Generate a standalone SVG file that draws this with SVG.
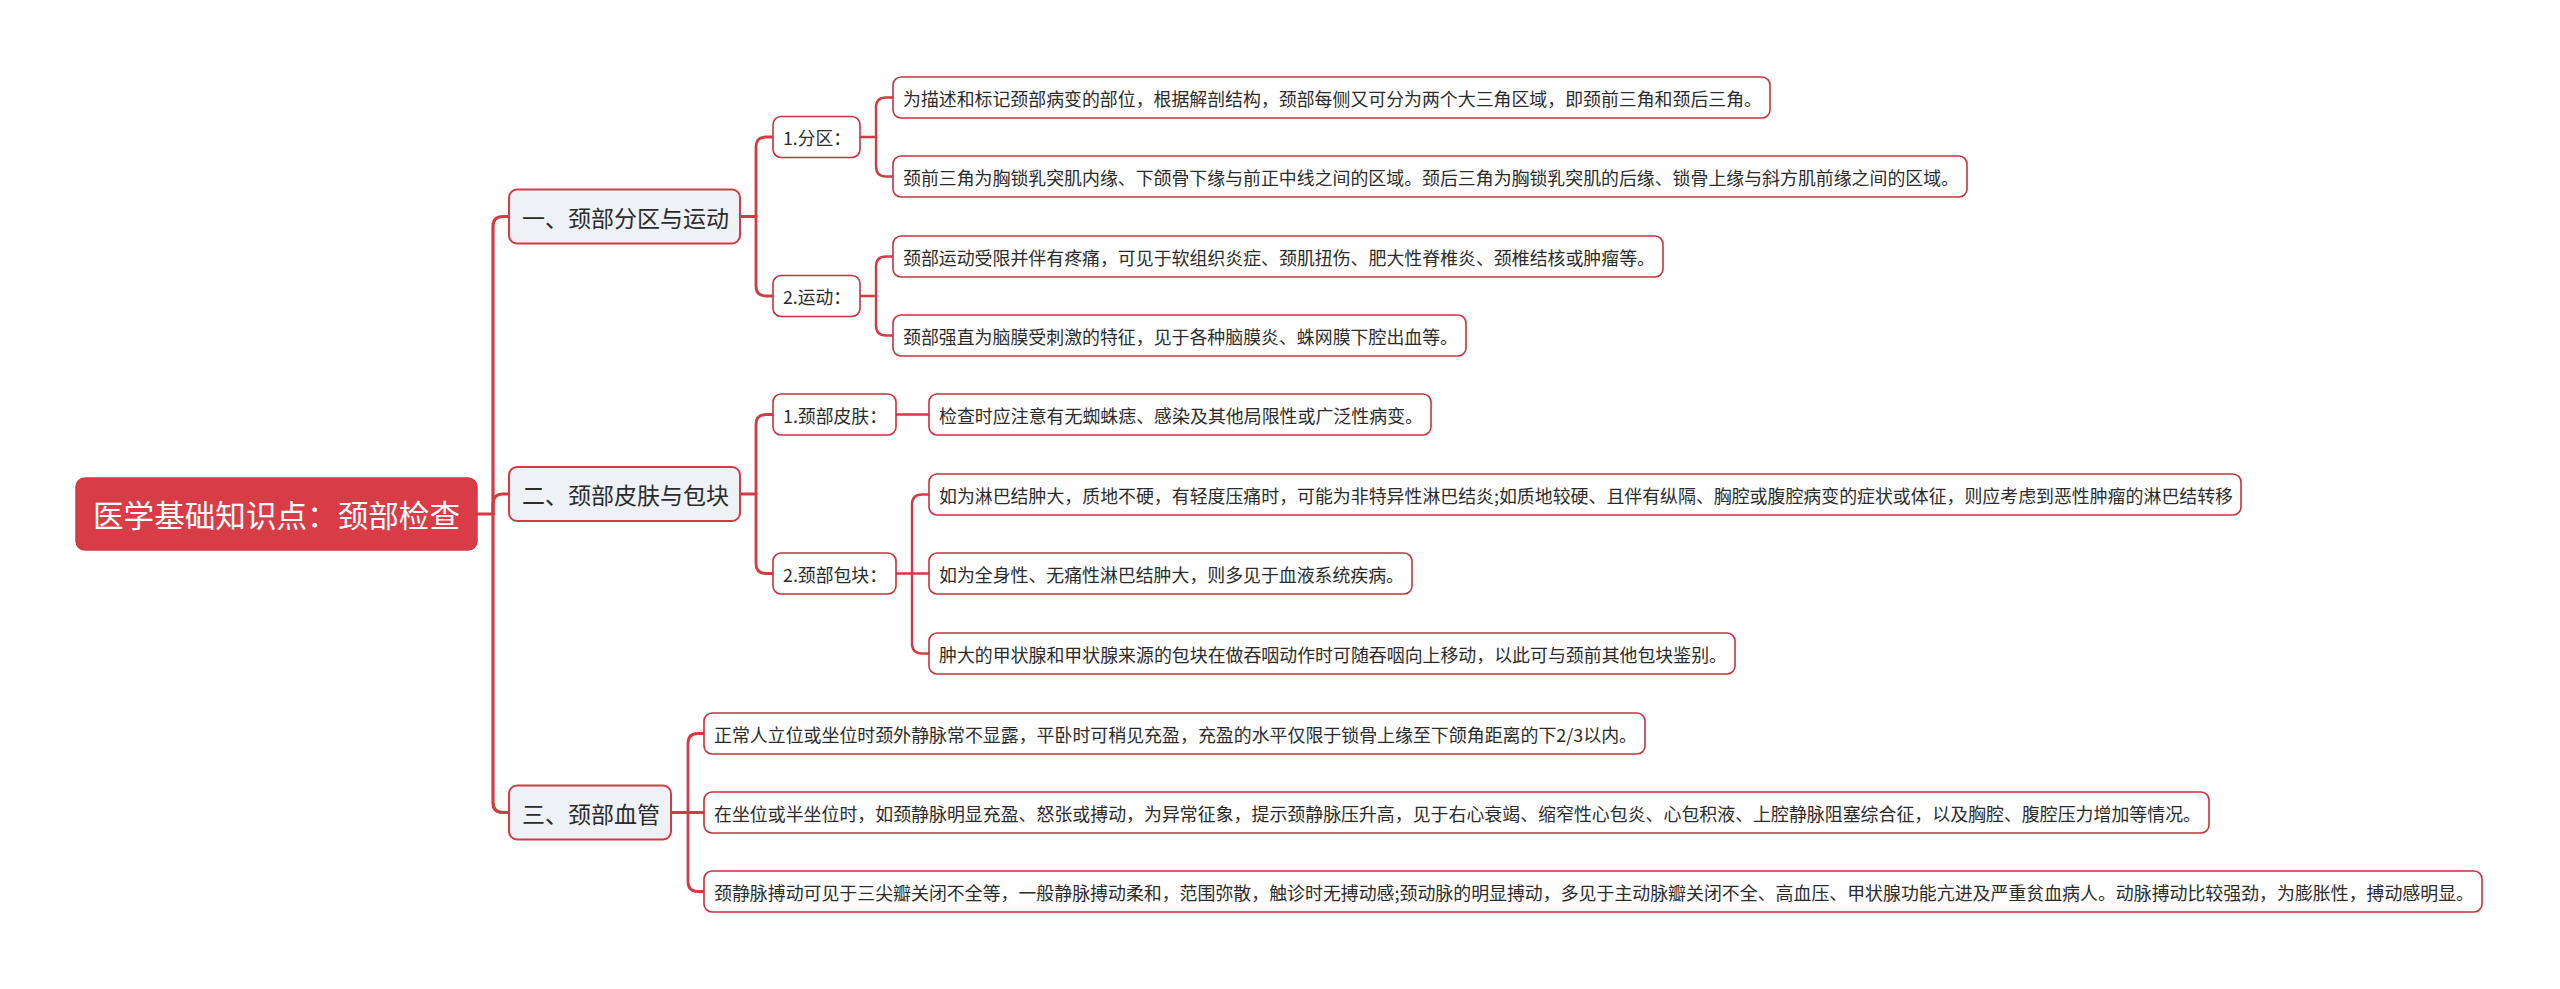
<svg xmlns="http://www.w3.org/2000/svg" width="2560" height="989" viewBox="0 0 2560 989">
<style>
  .bg{fill:#ffffff}
  .cn{fill:none;stroke:#d23a44;stroke-linecap:round;stroke-linejoin:round}
  .c1{stroke-width:3.2}
  .c2{stroke-width:2.8}
  .c3{stroke-width:2.4}
  .root rect{fill:#d83d47;stroke:#d23a44;stroke-width:1.5}
  .l1 rect{fill:#eef1f5;stroke:#d43a44;stroke-width:2}
  .l2 rect,.leaf rect{fill:#ffffff;stroke:#c5333d;stroke-width:1.6}
  text{font-family:"Noto Sans CJK SC","Microsoft YaHei","Noto Sans",sans-serif;dominant-baseline:central;fill:#2b2b2b}
  .root text{fill:#ffffff;font-size:30.5px}
  .l1 text{font-size:23px}
  .l2 text,.leaf text{font-size:17.9px}
</style>
<rect class="bg" x="0" y="0" width="2560" height="989"/>

<g id="connectors">
  <!-- root bus -->
  <path class="cn c1" d="M477 514 H493"/>
  <path class="cn c1" d="M493 514 V226.5 Q493 216.5 503 216.5 H509"/>
  <path class="cn c1" d="M493 514 V504 Q493 494 503 494 H509"/>
  <path class="cn c1" d="M493 514 V802.5 Q493 812.5 503 812.5 H509"/>
  <!-- L1 node 1 -->
  <path class="cn c2" d="M740 216.5 H756"/>
  <path class="cn c2" d="M756 216.5 V147 Q756 137 766 137 H773"/>
  <path class="cn c2" d="M756 216.5 V286 Q756 296 766 296 H773"/>
  <!-- 1.分区 -->
  <path class="cn c3" d="M860 137 H876"/>
  <path class="cn c3" d="M876 137 V107.5 Q876 97.5 886 97.5 H893"/>
  <path class="cn c3" d="M876 137 V166.5 Q876 176.5 886 176.5 H893"/>
  <!-- 2.运动 -->
  <path class="cn c3" d="M860 296 H876"/>
  <path class="cn c3" d="M876 296 V266.5 Q876 256.5 886 256.5 H893"/>
  <path class="cn c3" d="M876 296 V325.5 Q876 335.5 886 335.5 H893"/>
  <!-- L1 node 2 -->
  <path class="cn c2" d="M740 494 H756"/>
  <path class="cn c2" d="M756 494 V424.5 Q756 414.5 766 414.5 H773"/>
  <path class="cn c2" d="M756 494 V563.5 Q756 573.5 766 573.5 H773"/>
  <!-- 1.颈部皮肤 -->
  <path class="cn c3" d="M896 414.5 H929"/>
  <!-- 2.颈部包块 -->
  <path class="cn c3" d="M896 573.5 H929"/>
  <path class="cn c3" d="M912 573.5 V504.5 Q912 494.5 922 494.5 H929"/>
  <path class="cn c3" d="M912 573.5 V643.5 Q912 653.5 922 653.5 H929"/>
  <!-- L1 node 3 -->
  <path class="cn c2" d="M671 812.5 H704"/>
  <path class="cn c2" d="M688 812.5 V743.5 Q688 733.5 698 733.5 H704"/>
  <path class="cn c2" d="M688 812.5 V881.5 Q688 891.5 698 891.5 H704"/>
</g>

<g id="root" class="root">
  <rect x="76" y="478" width="401" height="72" rx="9"/>
  <text x="93" y="514" textLength="367" lengthAdjust="spacingAndGlyphs">医学基础知识点：颈部检查</text>
</g>

<g id="n1" class="l1">
  <rect x="509" y="189.5" width="231" height="54" rx="8"/>
  <text x="522" y="216.5" textLength="207" lengthAdjust="spacingAndGlyphs">一、颈部分区与运动</text>
</g>
<g id="n2" class="l1">
  <rect x="509" y="467" width="231" height="54" rx="8"/>
  <text x="522" y="494" textLength="207" lengthAdjust="spacingAndGlyphs">二、颈部皮肤与包块</text>
</g>
<g id="n3" class="l1">
  <rect x="509" y="785.5" width="162" height="54" rx="8"/>
  <text x="522" y="812.5" textLength="138" lengthAdjust="spacingAndGlyphs">三、颈部血管</text>
</g>

<g id="n1-1" class="l2">
  <rect x="773" y="116.5" width="87" height="41" rx="8"/>
  <text x="783" y="137" textLength="68" lengthAdjust="spacingAndGlyphs">1.分区：</text>
</g>
<g id="n1-2" class="l2">
  <rect x="773" y="275.5" width="87" height="41" rx="8"/>
  <text x="783" y="296" textLength="68" lengthAdjust="spacingAndGlyphs">2.运动：</text>
</g>
<g id="n2-1" class="l2">
  <rect x="773" y="394" width="123" height="41" rx="8"/>
  <text x="783" y="414.5" textLength="104" lengthAdjust="spacingAndGlyphs">1.颈部皮肤：</text>
</g>
<g id="n2-2" class="l2">
  <rect x="773" y="553" width="123" height="41" rx="8"/>
  <text x="783" y="573.5" textLength="104" lengthAdjust="spacingAndGlyphs">2.颈部包块：</text>
</g>

<g id="leaf1" class="leaf">
  <rect x="893" y="77" width="877" height="41" rx="8"/>
  <text x="903" y="97.5" textLength="859" lengthAdjust="spacingAndGlyphs">为描述和标记颈部病变的部位，根据解剖结构，颈部每侧又可分为两个大三角区域，即颈前三角和颈后三角。</text>
</g>
<g id="leaf2" class="leaf">
  <rect x="893" y="156" width="1074" height="41" rx="8"/>
  <text x="903" y="176.5" textLength="1056" lengthAdjust="spacingAndGlyphs">颈前三角为胸锁乳突肌内缘、下颌骨下缘与前正中线之间的区域。颈后三角为胸锁乳突肌的后缘、锁骨上缘与斜方肌前缘之间的区域。</text>
</g>
<g id="leaf3" class="leaf">
  <rect x="893" y="236" width="770" height="41" rx="8"/>
  <text x="903" y="256.5" textLength="752" lengthAdjust="spacingAndGlyphs">颈部运动受限并伴有疼痛，可见于软组织炎症、颈肌扭伤、肥大性脊椎炎、颈椎结核或肿瘤等。</text>
</g>
<g id="leaf4" class="leaf">
  <rect x="893" y="315" width="573" height="41" rx="8"/>
  <text x="903" y="335.5" textLength="555" lengthAdjust="spacingAndGlyphs">颈部强直为脑膜受刺激的特征，见于各种脑膜炎、蛛网膜下腔出血等。</text>
</g>
<g id="leaf5" class="leaf">
  <rect x="929" y="394" width="502" height="41" rx="8"/>
  <text x="939" y="414.5" textLength="484" lengthAdjust="spacingAndGlyphs">检查时应注意有无蜘蛛痣、感染及其他局限性或广泛性病变。</text>
</g>
<g id="leaf6" class="leaf">
  <rect x="929" y="474" width="1312" height="41" rx="8"/>
  <text x="939" y="494.5" textLength="1294" lengthAdjust="spacingAndGlyphs">如为淋巴结肿大，质地不硬，有轻度压痛时，可能为非特异性淋巴结炎;如质地较硬、且伴有纵隔、胸腔或腹腔病变的症状或体征，则应考虑到恶性肿瘤的淋巴结转移</text>
</g>
<g id="leaf7" class="leaf">
  <rect x="929" y="553" width="483" height="41" rx="8"/>
  <text x="939" y="573.5" textLength="465" lengthAdjust="spacingAndGlyphs">如为全身性、无痛性淋巴结肿大，则多见于血液系统疾病。</text>
</g>
<g id="leaf8" class="leaf">
  <rect x="929" y="633" width="806" height="41" rx="8"/>
  <text x="939" y="653.5" textLength="788" lengthAdjust="spacingAndGlyphs">肿大的甲状腺和甲状腺来源的包块在做吞咽动作时可随吞咽向上移动，以此可与颈前其他包块鉴别。</text>
</g>
<g id="leaf9" class="leaf">
  <rect x="704" y="713" width="941" height="41" rx="8"/>
  <text x="714" y="733.5" textLength="923" lengthAdjust="spacingAndGlyphs">正常人立位或坐位时颈外静脉常不显露，平卧时可稍见充盈，充盈的水平仅限于锁骨上缘至下颌角距离的下2/3以内。</text>
</g>
<g id="leaf10" class="leaf">
  <rect x="704" y="792" width="1505" height="41" rx="8"/>
  <text x="714" y="812.5" textLength="1487" lengthAdjust="spacingAndGlyphs">在坐位或半坐位时，如颈静脉明显充盈、怒张或搏动，为异常征象，提示颈静脉压升高，见于右心衰竭、缩窄性心包炎、心包积液、上腔静脉阻塞综合征，以及胸腔、腹腔压力增加等情况。</text>
</g>
<g id="leaf11" class="leaf">
  <rect x="704" y="871" width="1778" height="41" rx="8"/>
  <text x="714" y="891.5" textLength="1760" lengthAdjust="spacingAndGlyphs">颈静脉搏动可见于三尖瓣关闭不全等，一般静脉搏动柔和，范围弥散，触诊时无搏动感;颈动脉的明显搏动，多见于主动脉瓣关闭不全、高血压、甲状腺功能亢进及严重贫血病人。动脉搏动比较强劲，为膨胀性，搏动感明显。</text>
</g>
</svg>
